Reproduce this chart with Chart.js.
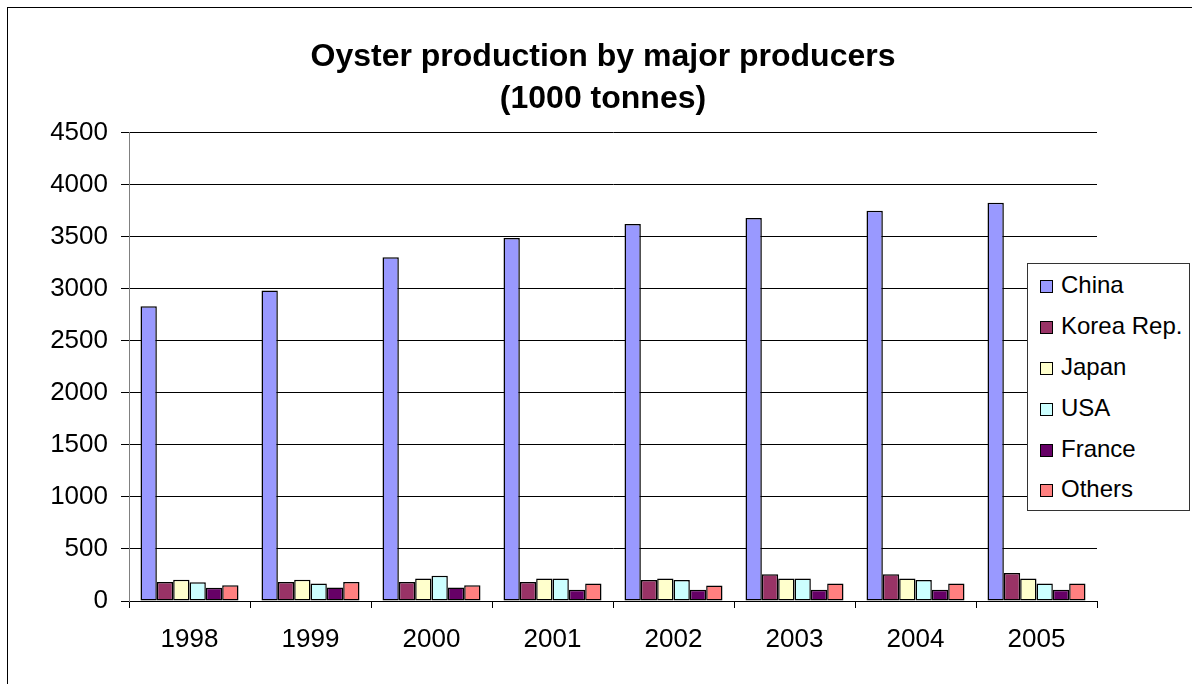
<!DOCTYPE html>
<html>
<head>
<meta charset="utf-8">
<script src="https://cdn.jsdelivr.net/npm/chart.js@4"></script>
<style>
    html, body {
        margin: 0;
        padding: 0;
        background: #fff;
        overflow: hidden;
        font-family: 'Liberation Sans', Arial, sans-serif;
    }
    #frame {
        position: absolute;
        left: 7px;
        top: 7px;
        width: 2000px;
        height: 2000px;
        border: 1px solid #000;
    }
    #chart {
        position: absolute;
        left: 0;
        top: 0;
    }
    #legend {
        position: absolute;
        left: 1027px;
        top: 263px;
        width: 163px;
        height: 248px;
        border: 1px solid #333;
        background: #fff;
        box-sizing: border-box;
        padding-top: 1px;
    }
    .legend-item {
        display: flex;
        align-items: center;
        height: 40.8px;
        font-size: 24px;
        color: #000;
        white-space: nowrap;
    }
    .legend-box {
        width: 11px;
        height: 11px;
        border: 1.5px solid #000;
        margin-left: 12px;
        margin-right: 8px;
        margin-top: 3px;
    }
</style>
</head>
<body>
<div id="frame"></div>
<canvas id="chart" width="1192" height="684"></canvas>
<div id="legend"></div>
<script>
const years = ['1998', '1999', '2000', '2001', '2002', '2003', '2004', '2005'];
const seriesNames = ['China', 'Korea Rep.', 'Japan', 'USA', 'France', 'Others'];
const seriesColors = ['#9999FF', '#993366', '#FFFFCC', '#CCFFFF', '#660066', '#FF8080'];

const china = [2831, 2982, 3301, 3487, 3621, 3679, 3749, 3826];
const korea = [183, 183, 183, 183, 201, 258, 258, 270];
const japan = [205, 205, 217, 217, 217, 217, 217, 217];
const usa = [180, 167, 242, 217, 201, 217, 201, 167];
const france = [128, 129, 129, 107, 107, 107, 107, 107];
const others = [151, 183, 151, 167, 148, 167, 167, 167];

const yMax = 4500;
const yStep = 500;

const seriesValues = [china, korea, japan, usa, france, others];
const fontFamily = "'Liberation Sans', Arial, sans-serif";

const datasets = seriesNames.map((name, i) => ({
    label: name,
    data: seriesValues[i],
    backgroundColor: seriesColors[i],
    borderColor: '#000',
    borderWidth: 1.5,
    borderSkipped: false
}));

// legend as plain html, drawn from the same names and colours
const legendEl = document.getElementById('legend');
seriesNames.forEach((name, i) => {
    const row = document.createElement('div');
    row.className = 'legend-item';
    const box = document.createElement('span');
    box.className = 'legend-box';
    box.style.background = seriesColors[i];
    const text = document.createElement('span');
    text.textContent = name;
    row.appendChild(box);
    row.appendChild(text);
    legendEl.appendChild(row);
});

const ctx = document.getElementById('chart').getContext('2d');
new Chart(ctx, {
    type: 'bar',
    data: {
        labels: years,
        datasets: datasets
    },
    options: {
        responsive: false,
        devicePixelRatio: 1,
        animation: false,
        layout: {
            padding: { left: 14, right: 0, top: 0, bottom: 0 }
        },
        datasets: {
            bar: {
                barPercentage: 1,
                categoryPercentage: 0.81
            }
        },
        plugins: {
            legend: { display: false },
            tooltip: { enabled: false },
            title: {
                display: true,
                text: ['Oyster production by major producers', '(1000 tonnes)'],
                color: '#000',
                font: { family: fontFamily, size: 32, weight: 'bold', lineHeight: 1.32 },
                padding: { top: 36, bottom: 12 }
            }
        },
        scales: {
            x: {
                grid: {
                    drawOnChartArea: false,
                    drawTicks: true,
                    tickLength: 7,
                    offset: true,
                    color: '#000'
                },
                border: { color: '#000', width: 1 },
                ticks: {
                    color: '#000',
                    padding: 16,
                    maxRotation: 0,
                    font: { family: fontFamily, size: 26 }
                },
                afterFit: (scale) => { scale.height = 83; }
            },
            y: {
                min: 0,
                max: yMax,
                grid: {
                    color: '#000',
                    tickLength: 8,
                    lineWidth: 1
                },
                border: { color: '#808080', width: 1 },
                ticks: {
                    stepSize: yStep,
                    color: '#000',
                    padding: 13,
                    font: { family: fontFamily, size: 26 },
                    callback: (value) => String(value)
                },
                afterFit: (scale) => { scale.width = 115; }
            },
            // empty spacer on the right so the plot stops where the legend sits
            spacer: {
                type: 'linear',
                position: 'right',
                display: true,
                grid: { display: false, drawTicks: false },
                border: { display: false },
                ticks: { display: false },
                afterFit: (scale) => { scale.width = 95; }
            }
        }
    }
});
</script>
</body>
</html>
